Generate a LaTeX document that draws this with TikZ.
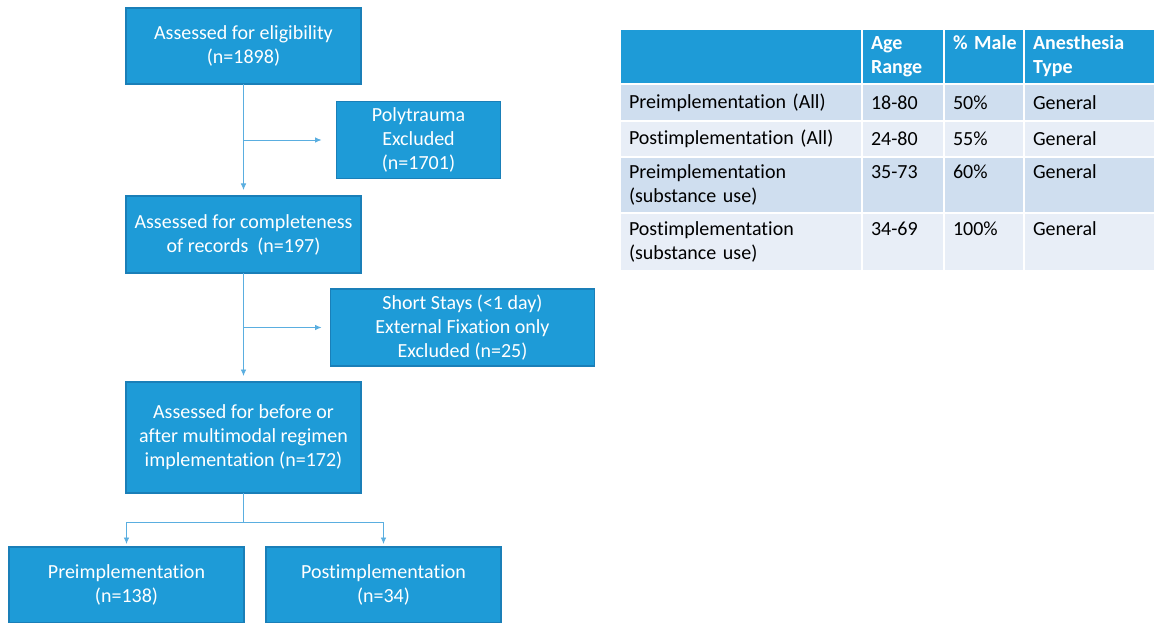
\documentclass[tikz,border=0pt]{standalone}
\usepackage{fontspec}
\setmainfont{Carlito}[Ligatures=CommonOff]
\usepackage{xcolor}
\usepackage{tikz}
\usetikzlibrary{positioning,matrix,calc,arrows.meta}

\definecolor{boxblue}{HTML}{1E9BD7}
\definecolor{boxedge}{HTML}{1A7FB8}
\definecolor{linkblue}{HTML}{5AAEE0}
\definecolor{rowdark}{HTML}{CFDEEF}
\definecolor{rowlight}{HTML}{E8EEF7}

\begin{document}
\begin{tikzpicture}[
    x=1pt, y=1pt,
    stage/.style={rectangle, draw=boxedge, line width=1.2pt, fill=boxblue, text=white, align=center, minimum width=235pt, minimum height=76pt, inner sep=0pt, outer sep=0pt, font=\fontsize{20}{24}\selectfont},
    link/.style={draw=linkblue, line width=0.8pt},
    arrowlink/.style={link, -{Latex[length=6.5pt,width=5.5pt]}},
    cell/.style={rectangle, anchor=center, align=left, inner xsep=8pt, inner ysep=0pt, outer sep=0pt, text=black, font=\fontsize{20}{24}\selectfont},
]
\fill[white] (0,0) rectangle (1154,622);
\useasboundingbox (0,0) rectangle (1154,622);
% Main column
\node[stage] (elig) at (243.5,576) {Assessed for eligibility\\(n=1898)};
\node[stage, minimum height=77pt, below=112pt of elig] (compl) {Assessed for completeness\\of records~~(n=197)};
\node[stage, minimum height=111pt, below=109pt of compl] (regimen) {Assessed for before or\\after multimodal regimen\\implementation (n=172)};
\node[stage, below=54pt of regimen, xshift=-117pt] (pre) {Preimplementation\\(n=138)};
\node[stage, right=22pt of pre] (post) {Postimplementation\\(n=34)};
% Exclusions
\coordinate (b1) at ($(elig.south)!0.5!(compl.north)$);
\coordinate (b2) at ($(compl.south)!0.5!(regimen.north)$);
\node[stage, minimum width=164pt, minimum height=77pt, right=93pt of b1] (poly) {Polytrauma\\Excluded\\(n=1701)};
\node[stage, minimum width=264pt, minimum height=77pt, right=87pt of b2] (short) {Short Stays (<1 day)\\External Fixation only\\Excluded (n=25)};
% Connectors
\draw[arrowlink, shorten >=6pt] (elig.south) -- (compl.north);
\draw[arrowlink, shorten >=15pt] (b1) -- (poly.west);
\draw[arrowlink, shorten >=6pt] (compl.south) -- (regimen.north);
\draw[arrowlink, shorten >=9pt] (b2) -- (short.west);
\draw[link] (regimen.south) -- ++(0,-29) coordinate (split);
\draw[arrowlink, shorten >=3pt] (split) -| (pre.north);
\draw[arrowlink, shorten >=3pt] (split) -| (post.north);
% Table
\matrix (stats) [matrix of nodes, nodes in empty cells, anchor=north west, inner sep=0pt, outer sep=0pt,
    column sep=2pt, row sep=2pt, nodes={cell},
    column 1/.style={nodes={text width=224pt}},
    column 2/.style={nodes={text width=64pt}},
    column 3/.style={nodes={text width=62pt}},
    column 4/.style={nodes={text width=113pt}},
    row 1/.style={nodes={fill=boxblue, text=white, font=\fontsize{20}{24}\selectfont\bfseries, minimum height=53pt}},
    row 2/.style={nodes={fill=rowdark, minimum height=35pt}},
    row 3/.style={nodes={fill=rowlight, minimum height=34pt}},
    row 4/.style={nodes={fill=rowdark, minimum height=54pt}},
    row 5/.style={nodes={fill=rowlight, minimum height=56pt}},
] at (621,592) {
  & {Age\\Range} & {\mbox{\% Male}\\\phantom{g}} & {Anesthesia\\Type} \\
  Preimplementation (All) & 18-80 & 50\% & General \\
  Postimplementation (All) & 24-80 & 55\% & General \\
  {Preimplementation\\(substance use)} & {35-73\\\phantom{(}} & {60\%\\\phantom{(}} & {General\\\phantom{(}} \\
  {Postimplementation\\(substance use)} & {34-69\\\phantom{(}} & {100\%\\\phantom{(}} & {General\\\phantom{(}} \\
};
\end{tikzpicture}
\end{document}
